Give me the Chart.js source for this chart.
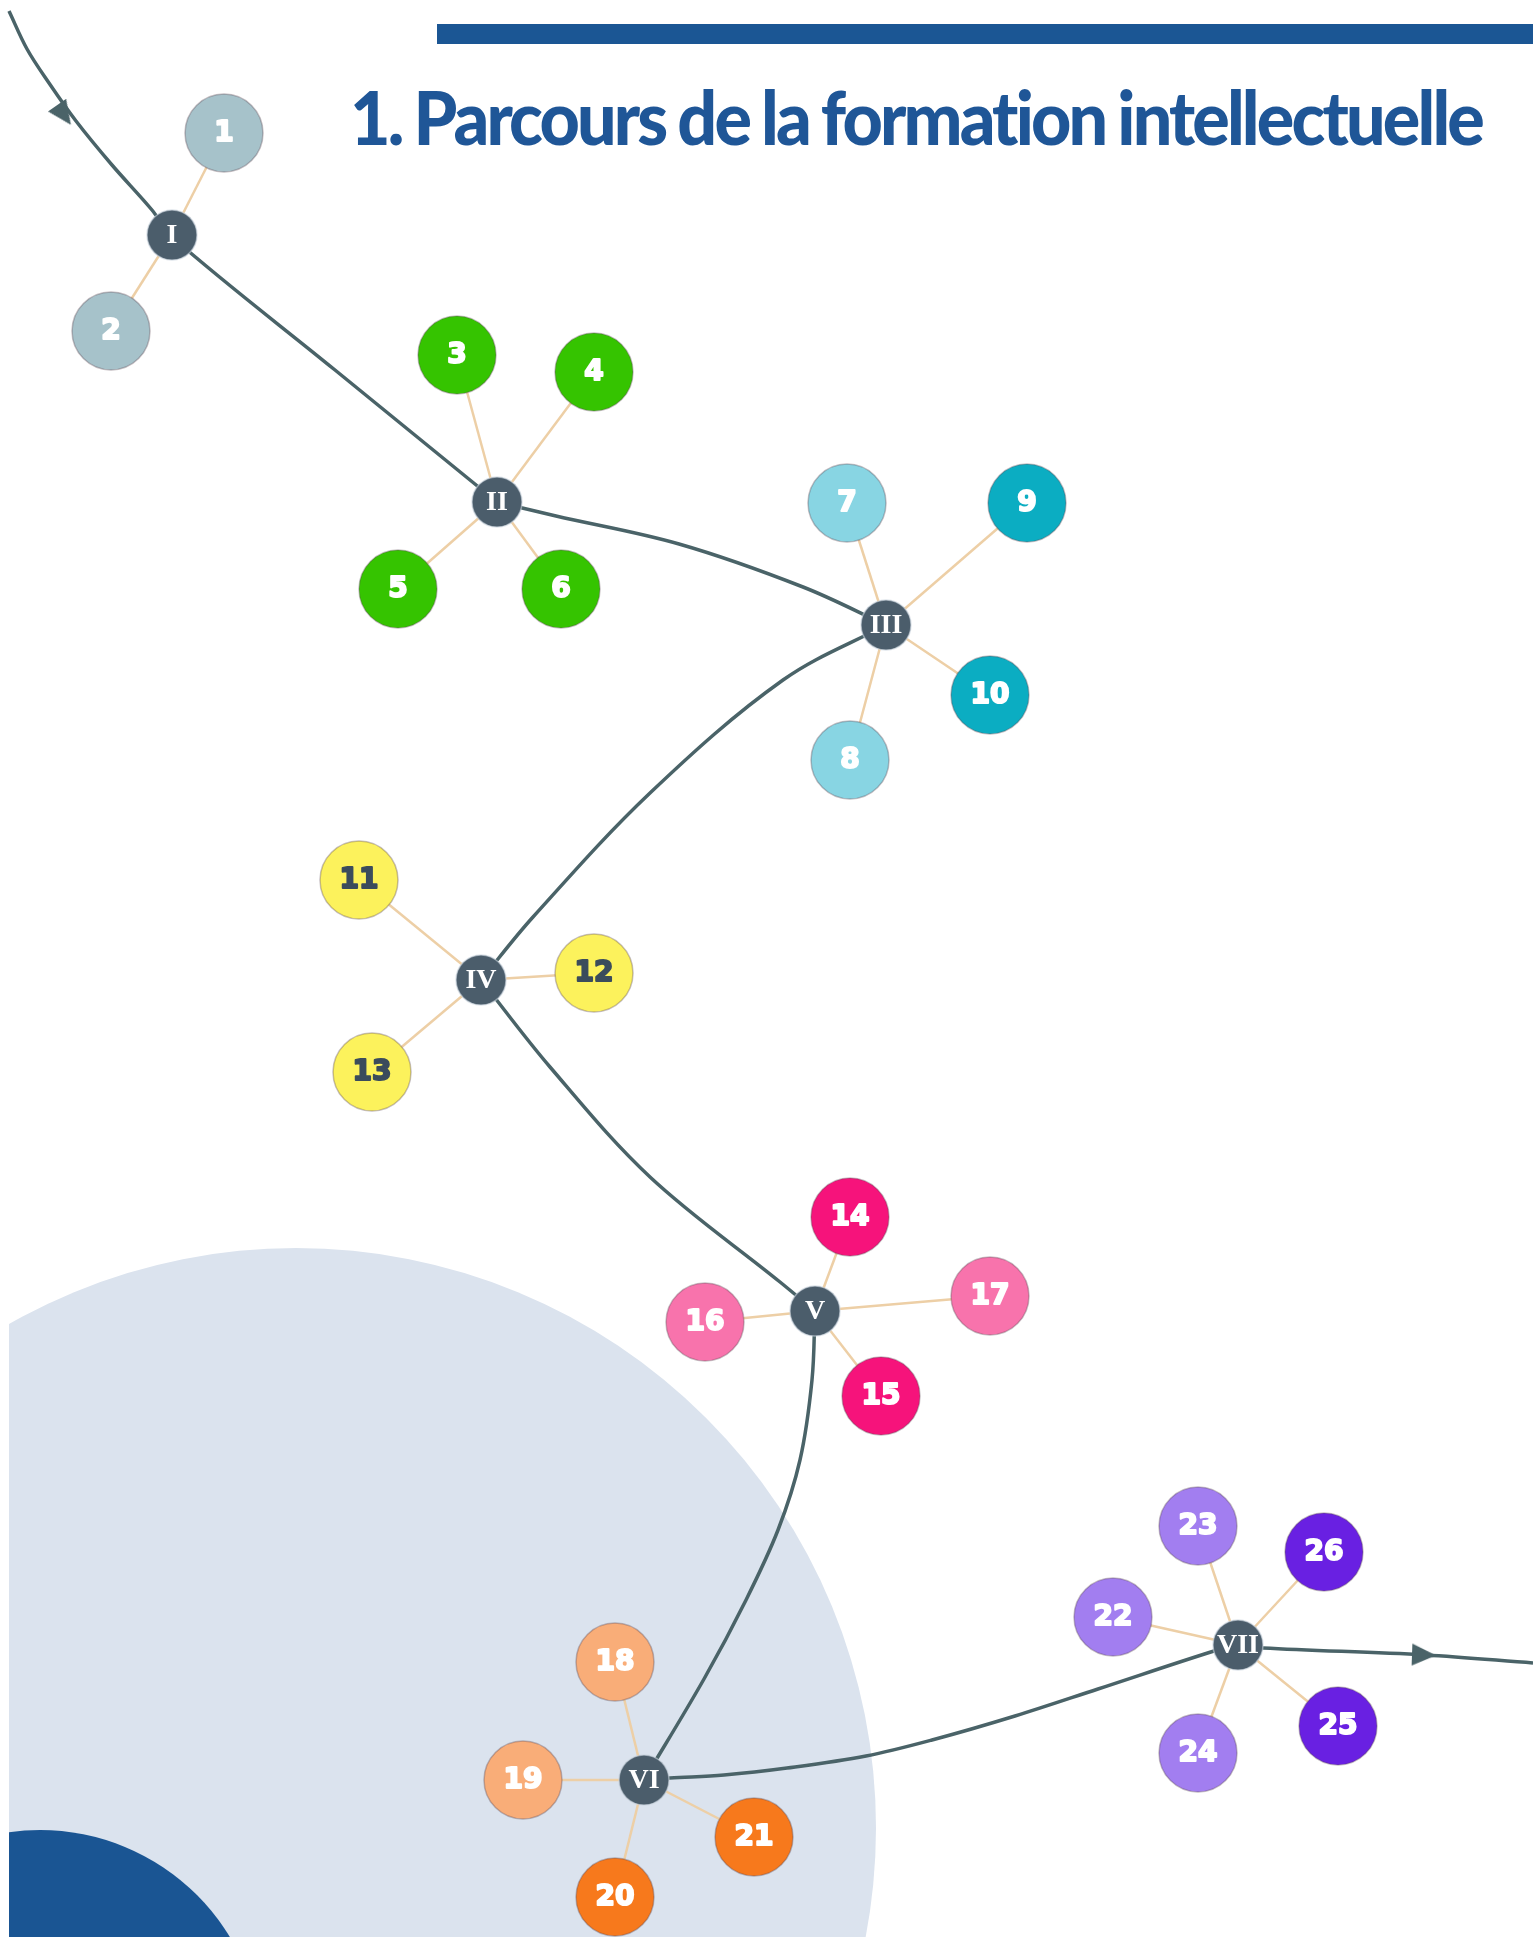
<!DOCTYPE html>
<html lang="fr">
<head>
<meta charset="utf-8">
<title>Parcours de la formation intellectuelle</title>
<script src="https://cdn.jsdelivr.net/npm/chart.js@4.4.1/dist/chart.umd.min.js"></script>
<style>
    html, body { margin: 0; padding: 0; background: #ffffff; }
    #page { position: relative; width: 1533px; height: 1937px; overflow: hidden; }
    #chart { position: absolute; left: 0; top: 0; }
    #topbar { position: absolute; left: 437px; top: 24px; width: 1096px; height: 20px; background: #1b5694; }
    #title {
        position: absolute; left: 350px; top: 80px; margin: 0;
        font-family: Lato, "Open Sans", sans-serif; font-weight: 900; font-size: 74px; line-height: 1;
        letter-spacing: -3px; word-spacing: -2px; color: #1f5697; white-space: nowrap; transform-origin: 0 0;
    }
</style>
</head>
<body>
<div id="page">
    <canvas id="chart" width="1533" height="1937"></canvas>
    <div id="topbar"></div>
    <h1 id="title">1. Parcours de la formation intellectuelle</h1>
</div>
<script>
// hubs (chapters)
const hubNames = ["I", "II", "III", "IV", "V", "VI", "VII"];
const hubX = [172, 497, 886, 481, 815, 644, 1238];
const hubY = [235, 502, 625, 980, 1311, 1780, 1645];

// leaves (numbered items) and the hub they hang from
const leafLabels = ["1","2","3","4","5","6","7","8","9","10","11","12","13","14","15","16","17","18","19","20","21","22","23","24","25","26"];
const leafX = [224, 111, 457, 594, 398, 561, 847, 850, 1027, 990, 359, 594, 372, 850, 881, 705, 990, 615, 523, 615, 754, 1113, 1198, 1198, 1338, 1324];
const leafY = [133, 331, 355, 372, 589, 589, 503, 760, 503, 695, 880, 973, 1072, 1217, 1396, 1322, 1296, 1662, 1780, 1897, 1837, 1617, 1526, 1753, 1726, 1552];
const leafHub = [0, 0, 1, 1, 1, 1, 2, 2, 2, 2, 3, 3, 3, 4, 4, 4, 4, 5, 5, 5, 5, 6, 6, 6, 6, 6];
const leafColors = ["#a6c2ca","#a6c2ca","#35c400","#35c400","#35c400","#35c400","#88d5e3","#88d5e3","#0badc2","#0badc2",
    "#fcf25c","#fcf25c","#fcf25c","#f6137b","#f6137b","#f873ac","#f873ac","#f9ad78","#f9ad78","#f7791c","#f7791c",
    "#a27ef0","#a27ef0","#a27ef0","#6920e2","#6920e2"];

// main path, one piece between consecutive hubs
const pathSegments = [
    [[9, 11], [27, 49], [49, 83], [76, 121], [112, 165], [152, 210], [172, 237], [335, 370], [497, 502]],
    [[497, 502], [556, 516], [679, 544], [803, 587], [886, 625]],
    [[886, 625], [783, 680], [650, 793], [533, 917], [481, 980]],
    [[481, 980], [550, 1067], [650, 1177], [780, 1282], [815, 1311]],
    [[815, 1311], [812, 1380], [800, 1460], [778, 1530], [745, 1602], [704, 1679], [644, 1780]],
    [[644, 1780], [670, 1778], [724, 1775], [787, 1768], [866, 1756], [932, 1740], [1015, 1716], [1098, 1689], [1214, 1651], [1238, 1645]],
    [[1238, 1645], [1263, 1648], [1425, 1655], [1533, 1663]]
];

// direction arrows on the path
const arrowX = [64, 1424];
const arrowY = [115, 1655];
const arrowAngle = [145, 92];

const PATH_COLOR = "#4a6368";
const HUB_COLOR = "#4b5d6b";
const SPOKE_COLOR = "#edcfa6";

// narrow arrow head used as point style
function arrowHead() {
    let c = document.createElement("canvas");
    c.width = 24;
    c.height = 24;
    let g = c.getContext("2d");
    g.fillStyle = PATH_COLOR;
    g.beginPath();
    g.moveTo(12, 0);
    g.lineTo(23, 24);
    g.lineTo(1, 24);
    g.closePath();
    g.fill();
    return c;
}

let datasets = [];

// spokes hub -> leaf
leafLabels.forEach((lab, i) => {
    let h = leafHub[i];
    datasets.push({
        type: "line",
        data: [{ x: hubX[h], y: hubY[h] }, { x: leafX[i], y: leafY[i] }],
        borderColor: SPOKE_COLOR,
        borderWidth: 2.5,
        pointRadius: 0,
        order: 6
    });
});

pathSegments.forEach(seg => {
    datasets.push({
        type: "line",
        data: seg.map(p => ({ x: p[0], y: p[1] })),
        borderColor: PATH_COLOR,
        borderWidth: 3.5,
        tension: 0.35,
        pointRadius: 0,
        order: 5
    });
});

datasets.push({
    type: "scatter",
    data: arrowX.map((x, i) => ({ x: x, y: arrowY[i] })),
    pointStyle: arrowHead(),
    pointRadius: 12,
    pointRotation: ctx => arrowAngle[ctx.dataIndex],
    order: 4
});

datasets.push({
    type: "scatter",
    label: "leaves",
    data: leafX.map((x, i) => ({ x: x, y: leafY[i] })),
    pointRadius: 39,
    pointBackgroundColor: leafColors,
    pointBorderColor: "rgba(90,70,80,0.35)",
    pointBorderWidth: 1.5,
    order: 2
});

datasets.push({
    type: "scatter",
    label: "hubs",
    data: hubX.map((x, i) => ({ x: x, y: hubY[i] })),
    pointRadius: 25,
    pointBackgroundColor: HUB_COLOR,
    pointBorderColor: "rgba(200,210,220,0.6)",
    pointBorderWidth: 1.5,
    order: 1
});

const backdrop = {
    id: "backdrop",
    beforeDatasetsDraw(chart) {
        const ctx = chart.ctx;
        const xs = chart.scales.x, ys = chart.scales.y;
        ctx.save();
        ctx.beginPath();
        ctx.rect(xs.getPixelForValue(9), 0, chart.width, chart.height);
        ctx.clip();
        ctx.fillStyle = "#dbe3ee";
        ctx.beginPath();
        ctx.arc(xs.getPixelForValue(296), ys.getPixelForValue(1828), 580, 0, Math.PI * 2);
        ctx.fill();
        ctx.fillStyle = "#1a5593";
        ctx.beginPath();
        ctx.arc(xs.getPixelForValue(40), ys.getPixelForValue(2052), 222, 0, Math.PI * 2);
        ctx.fill();
        ctx.restore();
    }
};

const nodeLabels = {
    id: "nodeLabels",
    afterDatasetsDraw(chart) {
        const ctx = chart.ctx;
        ctx.save();
        ctx.textAlign = "center";
        ctx.textBaseline = "middle";
        chart.data.datasets.forEach((ds, di) => {
            if (ds.label !== "leaves" && ds.label !== "hubs") return;
            const meta = chart.getDatasetMeta(di);
            meta.data.forEach((pt, i) => {
                if (ds.label === "leaves") {
                    const dark = leafColors[i] === "#fcf25c";
                    ctx.font = "bold 28px 'DejaVu Sans'";
                    ctx.fillStyle = dark ? "#3b4c5c" : "#ffffff";
                    ctx.strokeStyle = ctx.fillStyle;
                    ctx.lineWidth = 2;
                    ctx.lineJoin = "round";
                    ctx.fillText(leafLabels[i], pt.x, pt.y + 1, 46);
                    ctx.strokeText(leafLabels[i], pt.x, pt.y + 1, 46);
                } else {
                    ctx.font = "bold 28px 'Liberation Serif'";
                    ctx.fillStyle = "#ffffff";
                    ctx.fillText(hubNames[i], pt.x, pt.y + 1, 44);
                }
            });
        });
        ctx.restore();
    }
};

new Chart(document.getElementById("chart"), {
    data: { datasets: datasets },
    options: {
        responsive: false,
        animation: false,
        events: [],
        layout: { padding: 0, autoPadding: false },
        plugins: { legend: { display: false }, tooltip: { enabled: false } },
        scales: {
            x: { type: "linear", min: 0, max: 1533, display: false },
            y: { type: "linear", min: 0, max: 1937, reverse: true, display: false }
        }
    },
    plugins: [backdrop, nodeLabels]
});

// squeeze title to the width it has in the picture
document.addEventListener("DOMContentLoaded", function () {
    let t = document.getElementById("title");
    let w = t.getBoundingClientRect().width;
    t.style.transform = "scaleX(" + (1132 / w) + ")";
});
</script>
</body>
</html>
